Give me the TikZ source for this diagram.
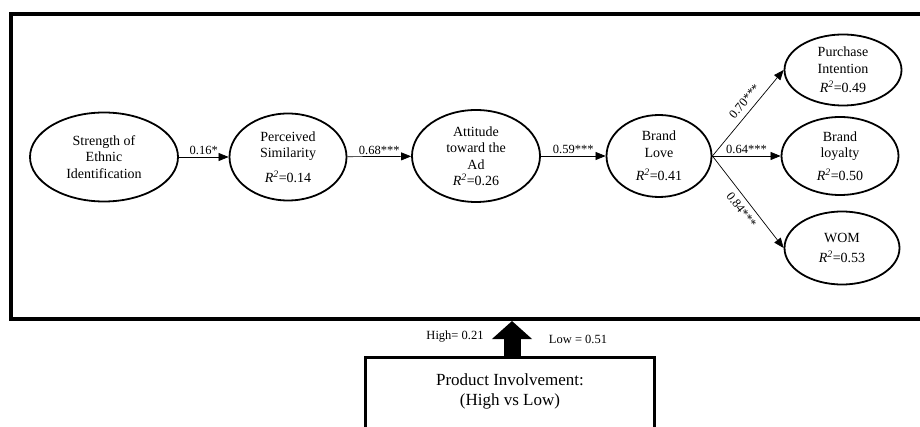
\documentclass[tikz,border=0pt]{standalone}
\usepackage{fontspec}
\setmainfont{Liberation Serif}
\usetikzlibrary{arrows.meta,shapes.geometric,positioning}

\newcommand{\rsq}[1]{\textit{R\textsuperscript{2}}=#1}

\begin{document}
\begin{tikzpicture}[x=1pt,y=-1pt,>={Triangle[length=10pt,width=8pt]},
    construct/.style={draw, ellipse, line width=1.8pt, inner sep=0pt, align=center, font=\fontsize{14}{16.5}\selectfont},
    link/.style={->, line width=0.7pt},
    coef/.style={font=\fontsize{12.5}{14}\selectfont, inner sep=1.5pt}]
        \useasboundingbox (0,0) rectangle (920,427);
        \node[draw, line width=4pt, inner sep=0pt, minimum width=914pt, minimum height=305pt] (frame) at (468,166.5) {};
        % constructs
        \node[construct, minimum width=148pt, minimum height=89pt] (sei) at (104,157) {Strength of\\Ethnic\\Identification};
        \node[construct, minimum width=117pt, minimum height=87pt] (ps) at (288,157) {Perceived\\Similarity\\[8pt]\rsq{0.14}};
        \node[construct, minimum width=128pt, minimum height=92pt] (att) at (476,156) {Attitude\\toward the\\Ad\\\rsq{0.26}};
        \node[construct, minimum width=105pt, minimum height=82pt] (bl) at (659,156) {Brand\\Love\\[7pt]\rsq{0.41}};
        \node[construct, minimum width=117pt, minimum height=71pt] (pi) at (843,70) {Purchase\\Intention\\[3pt]\rsq{0.49}};
        \node[construct, minimum width=117pt, minimum height=78pt] (loy) at (840,156) {Brand\\loyalty\\[6pt]\rsq{0.50}};
        \node[construct, minimum width=115pt, minimum height=73pt] (wom) at (842,248) {WOM\\[4pt]\rsq{0.53}};
        % paths
        \draw[link] (sei) -- node[coef, above] {0.16*} (ps);
        \draw[link] (ps) -- node[coef, above] {0.68***} (att);
        \draw[link] (att) -- node[coef, above] {0.59***} (bl);
        \draw[link] (bl.east) -- node[coef, above=4pt, sloped, pos=0.56] {0.70***} (pi.west);
        \draw[link] (bl.east) -- node[coef, above] {0.64***} (loy.west);
        \draw[link] (bl.east) -- node[coef, below=4pt, sloped, pos=0.52] {0.84***} (wom.west);
        % moderator
        \node[draw, line width=3pt, inner sep=0pt, minimum width=289pt, minimum height=100pt, anchor=north] (pib) at (510,355.5) {};
        \node[font=\fontsize{17}{20}\selectfont, align=center] (pitext) at (510,391) {Product Involvement:\\(High vs Low)};
        \draw[line width=17pt, -{Triangle[length=18pt,width=39pt]}] ([xshift=2pt]pib.north) -- ([xshift=2pt]pib.north |- frame.south);
        \node[coef] (high) at (455,337) {High= 0.21};
        \node[coef] (low) at (578,339) {Low = 0.51};
      \end{tikzpicture}
\end{document}
